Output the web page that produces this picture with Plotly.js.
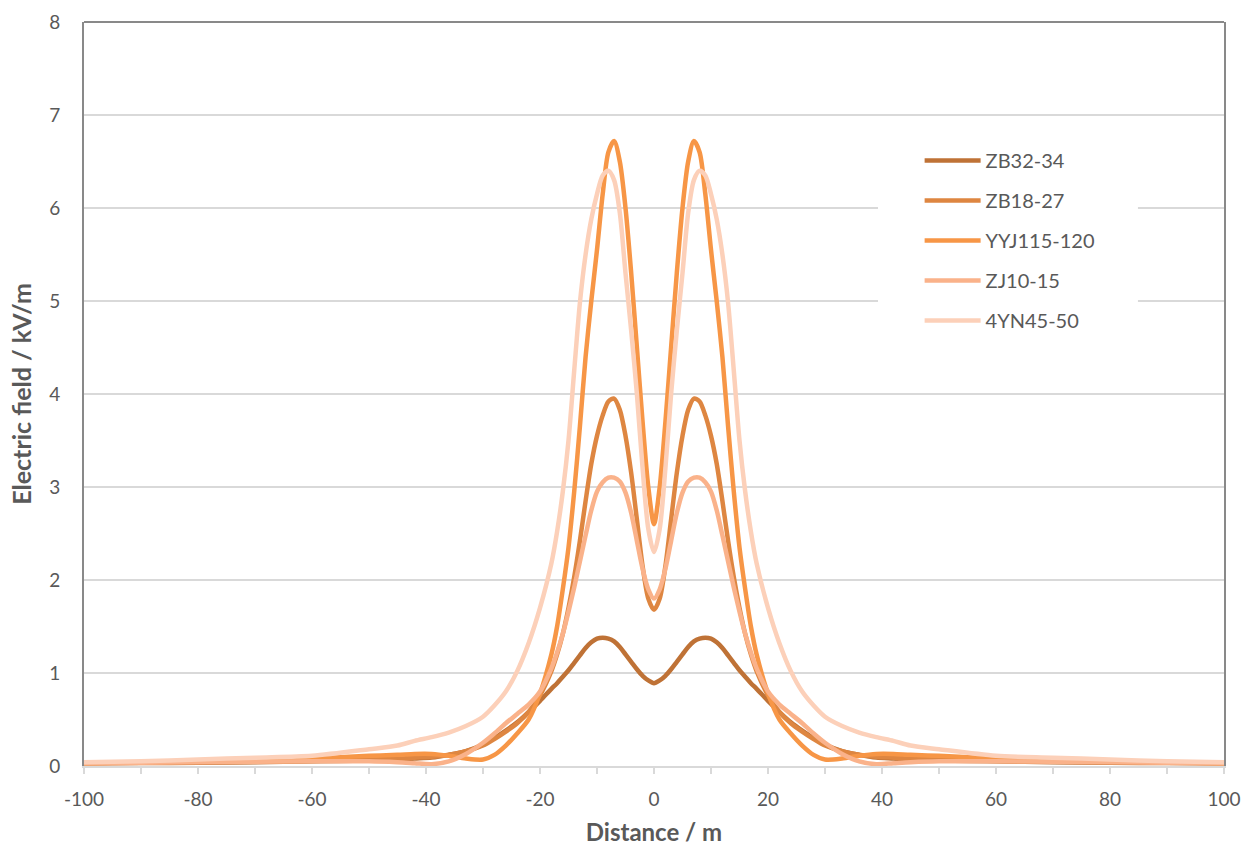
<!DOCTYPE html>
<html>
<head>
<meta charset="utf-8">
<script src="https://cdn.plot.ly/plotly-3.0.1.min.js"></script>
<style>html,body{margin:0;padding:0;background:#fff;}#chart{width:1255px;height:848px;}</style>
</head>
<body>
<div id="chart"></div>
<script>
var distance = [-100,-90,-80,-70,-60,-50,-45,-42,-39,-36,-33,-30,-28,-26,-24,-22,-20,-18,-17,-16,-15,-14,-13,-12,-11,-10,-9,-8,-7,-6,-5,-4,-3,-2,-1,0,1,2,3,4,5,6,7,8,9,10,11,12,13,14,15,16,17,18,20,22,24,26,28,30,33,36,39,42,45,50,60,70,80,90,100];

var zb32_34 = [0.03,0.032,0.035,0.04,0.05,0.06,0.07,0.08,0.09,0.12,0.16,0.23,0.3,0.38,0.47,0.58,0.7,0.83,0.89,0.96,1.03,1.11,1.19,1.27,1.33,1.37,1.38,1.37,1.34,1.28,1.2,1.12,1.04,0.97,0.92,0.89,0.92,0.97,1.04,1.12,1.2,1.28,1.34,1.37,1.38,1.37,1.33,1.27,1.19,1.11,1.03,0.96,0.89,0.83,0.7,0.58,0.47,0.38,0.3,0.23,0.16,0.12,0.09,0.08,0.07,0.06,0.05,0.04,0.035,0.032,0.03];

var zb18_27 = [0.03,0.035,0.04,0.045,0.055,0.07,0.08,0.09,0.1,0.12,0.16,0.22,0.29,0.37,0.46,0.58,0.76,1.02,1.2,1.42,1.7,2.03,2.42,2.85,3.25,3.55,3.77,3.92,3.95,3.83,3.55,3.15,2.65,2.15,1.8,1.68,1.8,2.15,2.65,3.15,3.55,3.83,3.95,3.92,3.77,3.55,3.25,2.85,2.42,2.03,1.7,1.42,1.2,1.02,0.76,0.58,0.46,0.37,0.29,0.22,0.16,0.12,0.1,0.09,0.08,0.07,0.055,0.045,0.04,0.035,0.03];

var yyj115_120 = [0.03,0.04,0.05,0.06,0.08,0.11,0.12,0.13,0.13,0.11,0.08,0.07,0.12,0.22,0.35,0.5,0.78,1.2,1.5,1.9,2.35,2.95,3.65,4.4,5.0,5.55,6.15,6.6,6.72,6.5,6.0,5.3,4.5,3.7,3.0,2.6,3.0,3.7,4.5,5.3,6.0,6.5,6.72,6.6,6.15,5.55,5.0,4.4,3.65,2.95,2.35,1.9,1.5,1.2,0.78,0.5,0.35,0.22,0.12,0.07,0.08,0.11,0.13,0.13,0.12,0.11,0.08,0.06,0.05,0.04,0.03];

var zj10_15 = [0.03,0.035,0.04,0.045,0.05,0.05,0.04,0.03,0.02,0.05,0.13,0.25,0.35,0.46,0.56,0.66,0.8,1.05,1.22,1.42,1.66,1.92,2.2,2.48,2.75,2.95,3.05,3.1,3.1,3.06,2.94,2.72,2.42,2.12,1.9,1.8,1.9,2.12,2.42,2.72,2.94,3.06,3.1,3.1,3.05,2.95,2.75,2.48,2.2,1.92,1.66,1.42,1.22,1.05,0.8,0.66,0.56,0.46,0.35,0.25,0.13,0.05,0.02,0.03,0.04,0.05,0.05,0.045,0.04,0.035,0.03];

var yn45_50 = [0.04,0.05,0.07,0.09,0.11,0.18,0.22,0.27,0.31,0.36,0.43,0.53,0.65,0.8,1.02,1.32,1.7,2.18,2.52,2.95,3.5,4.25,4.98,5.5,5.88,6.15,6.35,6.4,6.3,5.95,5.3,4.68,4.0,3.2,2.55,2.3,2.55,3.2,4.0,4.68,5.3,5.95,6.3,6.4,6.35,6.15,5.88,5.5,4.98,4.25,3.5,2.95,2.52,2.18,1.7,1.32,1.02,0.8,0.65,0.53,0.43,0.36,0.31,0.27,0.22,0.18,0.11,0.09,0.07,0.05,0.04];

var seriesNames = ["ZB32-34","ZB18-27","YYJ115-120","ZJ10-15","4YN45-50"];
var seriesValues = [zb32_34, zb18_27, yyj115_120, zj10_15, yn45_50];
var seriesColors = ["#BF7236","#DE8641","#F79646","#FAB28A","#FCD0B9"];

var xTickVals = [-100,-80,-60,-40,-20,0,20,40,60,80,100];
var xTickText = ["-100","-80","-60","-40","-20","0","20","40","60","80","100"];
var yTickVals = [0,1,2,3,4,5,6,7,8];

var font = "Lato, 'Open Sans', sans-serif";

var traces = seriesNames.map(function(n, i){
  return {
    type: "scatter", mode: "lines", name: n,
    x: distance, y: seriesValues[i],
    legendgroup: "g" + i,
    line: {color: seriesColors[i], width: 4.5, shape: "spline", smoothing: 0.8},
    hoverinfo: "x+y+name"
  };
});

var layout = {
  width: 1255, height: 848,
  margin: {l: 84, r: 31, t: 22, b: 82, pad: 0},
  paper_bgcolor: "#ffffff", plot_bgcolor: "#ffffff",
  font: {family: font, color: "#595959", size: 19},
  showlegend: true,
  legend: {
    x: 0.733, y: 0.84, xanchor: "left", yanchor: "top",
    bgcolor: "rgba(255,255,255,0)", borderwidth: 0,
    font: {family: font, size: 20, color: "#595959"},
    traceorder: "grouped", tracegroupgap: 11, itemwidth: 56
  },
  xaxis: {
    range: [-100, 100], tickmode: "array", tickvals: xTickVals, ticktext: xTickText,
    showgrid: false, zeroline: false,
    showline: true, linecolor: "#d9d9d9", linewidth: 1.5,
    ticks: "outside", ticklen: 6, tickcolor: "#d9d9d9", tickwidth: 1.5,
    minor: {dtick: 10, ticks: "outside", ticklen: 6, tickcolor: "#d9d9d9", tickwidth: 1.5, showgrid: false},
    ticklabelstandoff: 10,
    tickfont: {family: font, size: 19, color: "#595959"},
    title: {text: "Distance / m", font: {family: font, size: 24, color: "#595959", weight: "bold"}, standoff: 15}
  },
  yaxis: {
    range: [0, 8], tickmode: "array", tickvals: yTickVals,
    showgrid: true, gridcolor: "#d9d9d9", gridwidth: 1.5,
    zeroline: false,
    showline: true, mirror: true, linecolor: "#898989", linewidth: 2,
    ticks: "", ticklabelstandoff: 18,
    tickfont: {family: font, size: 19, color: "#595959"},
    title: {text: "Electric field / kV/m", font: {family: font, size: 25, color: "#595959", weight: "bold"}, standoff: 10}
  },
  shapes: [
    {type: "line", xref: "paper", yref: "paper", x0: 0, x1: 1, y0: 1, y1: 1, line: {color: "#898989", width: 2}},
    {type: "rect", xref: "x", yref: "y", x0: 39.3, x1: 84.9, y0: 4.53, y1: 6.84, fillcolor: "#ffffff", line: {width: 0}, layer: "above"}
  ]
};

Plotly.newPlot("chart", traces, layout, {displayModeBar: false, staticPlot: true});
</script>
</body>
</html>
